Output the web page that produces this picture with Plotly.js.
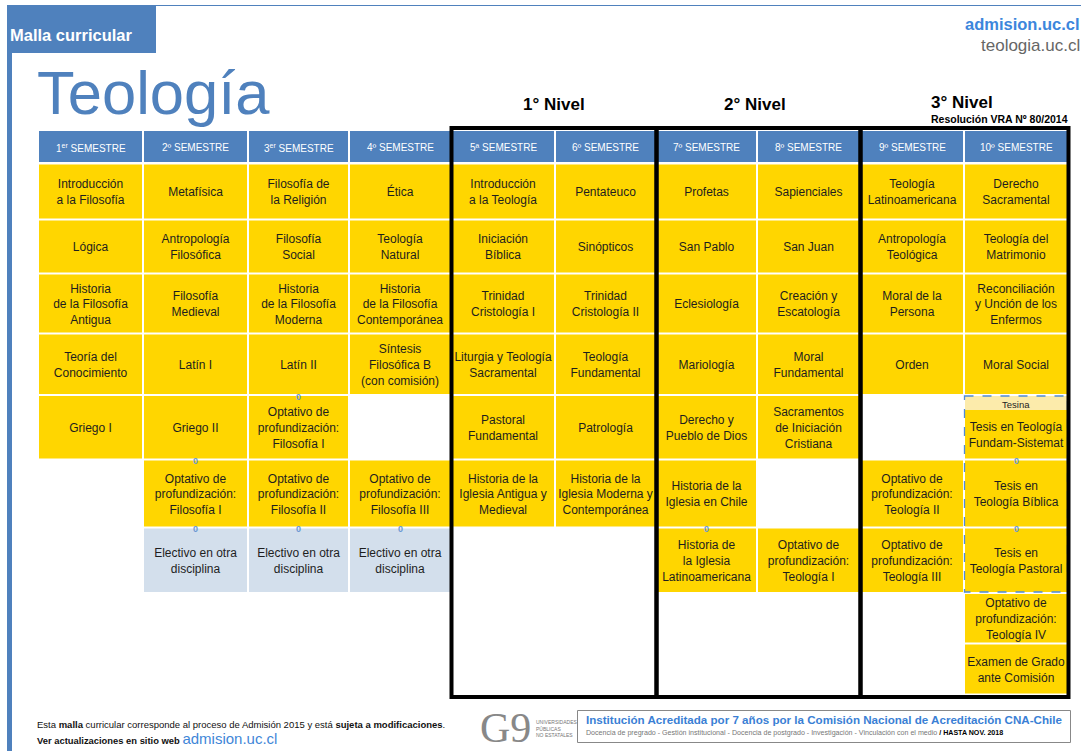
<!DOCTYPE html>
<html><head><meta charset="utf-8">
<script src="https://cdn.plot.ly/plotly-3.0.1.min.js"></script>
<style>html,body{margin:0;padding:0;background:#fff;}#chart{width:1087px;height:751px;}</style>
</head><body><div id="chart"></div>
<script>
// ---------------- DATA ----------------
const semesterLabels = ['1<sup>er</sup> SEMESTRE','2º SEMESTRE','3<sup>er</sup> SEMESTRE','4º SEMESTRE','5ª SEMESTRE',
  '6º SEMESTRE','7º SEMESTRE','8º SEMESTRE','9º SEMESTRE','10º SEMESTRE'];
const sem1 = ['Introducción<br>a la Filosofía','Lógica','Historia<br>de la Filosofía<br>Antigua','Teoría del<br>Conocimiento','Griego I',null,null];
const sem2 = ['Metafísica','Antropología<br>Filosófica','Filosofía<br>Medieval','Latín I','Griego II','Optativo de<br>profundización:<br>Filosofía I','Electivo en otra<br>disciplina'];
const sem3 = ['Filosofía de<br>la Religión','Filosofía<br>Social','Historia<br>de la Filosofía<br>Moderna','Latín II','Optativo de<br>profundización:<br>Filosofía I','Optativo de<br>profundización:<br>Filosofía II','Electivo en otra<br>disciplina'];
const sem4 = ['Ética','Teología<br>Natural','Historia<br>de la Filosofía<br>Contemporánea','Síntesis<br>Filosófica B<br>(con comisión)',null,'Optativo de<br>profundización:<br>Filosofía III','Electivo en otra<br>disciplina'];
const sem5 = ['Introducción<br>a la Teología','Iniciación<br>Bíblica','Trinidad<br>Cristología I','Liturgia y Teología<br>Sacramental','Pastoral<br>Fundamental','Historia de la<br>Iglesia Antigua y<br>Medieval',null];
const sem6 = ['Pentateuco','Sinópticos','Trinidad<br>Cristología II','Teología<br>Fundamental','Patrología','Historia de la<br>Iglesia Moderna y<br>Contemporánea',null];
const sem7 = ['Profetas','San Pablo','Eclesiología','Mariología','Derecho y<br>Pueblo de Dios','Historia de la<br>Iglesia en Chile','Historia de<br>la Iglesia<br>Latinoamericana'];
const sem8 = ['Sapienciales','San Juan','Creación y<br>Escatología','Moral<br>Fundamental','Sacramentos<br>de Iniciación<br>Cristiana',null,'Optativo de<br>profundización:<br>Teología I'];
const sem9 = ['Teología<br>Latinoamericana','Antropología<br>Teológica','Moral de la<br>Persona','Orden',null,'Optativo de<br>profundización:<br>Teología II','Optativo de<br>profundización:<br>Teología III'];
const sem10 = ['Derecho<br>Sacramental','Teología del<br>Matrimonio','Reconciliación<br>y Unción de los<br>Enfermos','Moral Social','Tesis en Teología<br>Fundam-Sistemat','Tesis en<br>Teología Bíblica','Tesis en<br>Teología Pastoral','Optativo de<br>profundización:<br>Teología IV','Examen de Grado<br>ante Comisión'];
const semesters = [sem1,sem2,sem3,sem4,sem5,sem6,sem7,sem8,sem9,sem10];
const electivePrefix = 'Electivo';
const levelLabels = ['1° Nivel','2° Nivel','3° Nivel'];
const levelSemesters = [[4,5],[6,7],[8,9]];
const links = [[2,4],[1,5],[1,6],[2,6],[3,6],[6,6],[9,5],[9,6]]; // [semester, row below the link]
const tesinaSemester = 9;
const tesinaRows = [4,5,6];
const tesinaLabel = 'Tesina';

// ---------------- LAYOUT CONSTANTS ----------------
const W = 1087, H = 751;
const colEdges = [38,143,248,349,451,555,656,757,860,964,1068];
const headerTop = 131, headerBottom = 162;
const rowEdges = [163.5,219.5,273.5,333.5,395,459.5,527.5,593,643.5,694.5];
const tesinaHeaderH = 14;
const boxTop = 128, boxBottom = 697;
const levelLabelShift = [0,-4,-3];
const levelLabelY = [104,104,102.5];
const textShift = 1.8;
const BLUE = '#4f81bd', YELLOW = '#ffd600', ELECT = '#d3dfec', TXT = '#1e1e1e';
const FONT = 'Liberation Sans, Arial, Helvetica, sans-serif';

const shapes = [], annotations = [];
const tx = [], ty = [], tt = [];

// top frame
shapes.push({type:'rect',xref:'x',yref:'y',x0:7,x1:156,y0:5,y1:53,fillcolor:BLUE,line:{width:0},layer:'below'});
shapes.push({type:'rect',xref:'x',yref:'y',x0:7,x1:12,y0:53,y1:H,fillcolor:BLUE,line:{width:0},layer:'below'});
shapes.push({type:'line',xref:'x',yref:'y',x0:156,x1:1081,y0:5.5,y1:5.5,line:{color:BLUE,width:1.2},layer:'below'});

// headers
semesterLabels.forEach((lab,c)=>{
  const x0 = colEdges[c]+1, x1 = colEdges[c+1]-1;
  shapes.push({type:'rect',xref:'x',yref:'y',x0:x0,x1:x1,y0:headerTop,y1:headerBottom,fillcolor:BLUE,line:{width:0},layer:'below'});
  annotations.push({xref:'x',yref:'y',x:(x0+x1)/2,y:(headerTop+headerBottom)/2+1,text:lab,showarrow:false,
    font:{family:FONT,size:10,color:'#ffffff'},xanchor:'center',yanchor:'middle'});
});

// cells
semesters.forEach((list,c)=>{
  list.forEach((name,r)=>{
    if(!name) return;
    const x0 = colEdges[c]+1, x1 = colEdges[c+1]-1;
    let y0 = rowEdges[r]+1, y1 = rowEdges[r+1]-1;
    if(c===tesinaSemester && r===tesinaRows[0]) y0 += tesinaHeaderH;
    const fill = name.indexOf(electivePrefix)===0 ? ELECT : YELLOW;
    shapes.push({type:'rect',xref:'x',yref:'y',x0:x0,x1:x1,y0:y0,y1:y1,fillcolor:fill,line:{width:0},layer:'below'});
    tx.push((x0+x1)/2); ty.push((y0+y1)/2+textShift); tt.push(name);
  });
});

// tesina
{
  const x0 = colEdges[tesinaSemester]+1, x1 = colEdges[tesinaSemester+1]-1;
  const y0 = rowEdges[tesinaRows[0]]+1, y1 = rowEdges[tesinaRows[tesinaRows.length-1]+1]-1;
  shapes.push({type:'rect',xref:'x',yref:'y',x0:x0,x1:x1,y0:y0,y1:y0+tesinaHeaderH,fillcolor:'#fcebab',line:{width:0},layer:'below'});
  shapes.push({type:'rect',xref:'x',yref:'y',x0:x0-0.5,x1:x1+0.5,y0:y0,y1:y1,fillcolor:'rgba(0,0,0,0)',line:{color:'#4f8ad8',width:1.3,dash:'dash'},layer:'above'});
  annotations.push({xref:'x',yref:'y',x:(x0+x1)/2,y:y0+tesinaHeaderH/2+1,text:tesinaLabel,showarrow:false,
    font:{family:FONT,size:9.5,color:TXT},xanchor:'center',yanchor:'middle'});
}

// links
links.forEach(([c,r])=>{
  annotations.push({xref:'x',yref:'y',x:(colEdges[c]+colEdges[c+1])/2,y:rowEdges[r]+1.5,text:'<b>0</b>',showarrow:false,
    font:{family:FONT,size:9,color:'#6b98d3'},xanchor:'center',yanchor:'middle'});
});

// level boxes
levelSemesters.forEach(([a,b],i)=>{
  const x0 = colEdges[a]+0.5, x1 = colEdges[b+1]+0.5;
  shapes.push({type:'rect',xref:'x',yref:'y',x0:x0,x1:x1,y0:boxTop,y1:boxBottom,fillcolor:'rgba(0,0,0,0)',line:{color:'#000',width:4},layer:'above'});
  annotations.push({xref:'x',yref:'y',x:(x0+x1)/2+levelLabelShift[i],y:levelLabelY[i],text:'<b>'+levelLabels[i]+'</b>',showarrow:false,
    borderpad:0,font:{family:FONT,size:17,color:'#000'},xanchor:'center',yanchor:'middle'});
});
annotations.push({xref:'x',yref:'y',x:1069,y:118.5,text:'<b>Resolución VRA Nº 80/2014</b>',showarrow:false,borderpad:0,
  font:{family:FONT,size:10.5,color:'#000'},xanchor:'right',yanchor:'middle'});

// titles
annotations.push({xref:'x',yref:'y',x:8,y:35,text:'<b>Malla curricular</b>',showarrow:false,
  font:{family:FONT,size:16.5,color:'#fff'},xanchor:'left',yanchor:'middle'});
annotations.push({xref:'x',yref:'y',x:35,y:92,text:'Teología',showarrow:false,
  font:{family:FONT,size:61.5,color:BLUE},xanchor:'left',yanchor:'middle'});
annotations.push({xref:'x',yref:'y',x:1082,y:24,text:'<b>admision.uc.cl</b>',showarrow:false,
  font:{family:FONT,size:16.5,color:'#3c86dc'},xanchor:'right',yanchor:'middle'});
annotations.push({xref:'x',yref:'y',x:1082,y:45,text:'teologia.uc.cl',showarrow:false,
  font:{family:FONT,size:17,color:'#666'},xanchor:'right',yanchor:'middle'});

// footer
annotations.push({xref:'x',yref:'y',x:35,y:724,text:'Esta <b>malla</b> curricular corresponde al proceso de Admisión 2015 y está <b>sujeta a modificaciones</b>.',showarrow:false,
  font:{family:FONT,size:9.5,color:'#111'},xanchor:'left',yanchor:'middle'});
annotations.push({xref:'x',yref:'y',x:35,y:738,text:'<b>Ver actualizaciones en sitio web</b> <span style="font-size:15px;color:#3f86d8">admision.uc.cl</span>',showarrow:false,
  font:{family:FONT,size:9.4,color:'#111'},xanchor:'left',yanchor:'middle'});
annotations.push({xref:'x',yref:'y',x:478,y:728,text:'G9',showarrow:false,
  font:{family:'Liberation Serif, Times New Roman, serif',size:42,color:'#888'},xanchor:'left',yanchor:'middle'});
annotations.push({xref:'x',yref:'y',x:534,y:728,text:'UNIVERSIDADES<br>PÚBLICAS<br>NO ESTATALES',showarrow:false,align:'left',
  font:{family:FONT,size:5,color:'#777'},xanchor:'left',yanchor:'middle'});
shapes.push({type:'rect',xref:'x',yref:'y',x0:577.5,x1:1070.5,y0:710.5,y1:742.5,fillcolor:'rgba(0,0,0,0)',line:{color:'#888',width:1},layer:'below'});
annotations.push({xref:'x',yref:'y',x:584,y:719,text:'<b>Institución Acreditada por 7 años por la Comisión Nacional de Acreditación CNA-Chile</b>',showarrow:false,
  font:{family:FONT,size:11.6,color:'#3a7fd5'},xanchor:'left',yanchor:'middle'});
annotations.push({xref:'x',yref:'y',x:584,y:733,text:'Docencia de pregrado - Gestión institucional - Docencia de postgrado - Investigación - Vinculación con el medio <span style="color:#000"><b>/ HASTA NOV. 2018</b></span>',showarrow:false,
  font:{family:FONT,size:7.1,color:'#777'},xanchor:'left',yanchor:'middle'});

const trace = {type:'scatter',mode:'text',x:tx,y:ty,text:tt,textposition:'middle center',
  textfont:{family:FONT,size:12,color:TXT},hoverinfo:'skip',showlegend:false,cliponaxis:false};

const layout = {
  width:W,height:H,margin:{l:0,r:0,t:0,b:0,pad:0},paper_bgcolor:'#fff',plot_bgcolor:'#fff',
  xaxis:{range:[0,W],visible:false,fixedrange:true},
  yaxis:{range:[H,0],visible:false,fixedrange:true},
  shapes:shapes,annotations:annotations,showlegend:false
};
Plotly.newPlot('chart',[trace],layout,{staticPlot:true,displayModeBar:false});
</script></body></html>
